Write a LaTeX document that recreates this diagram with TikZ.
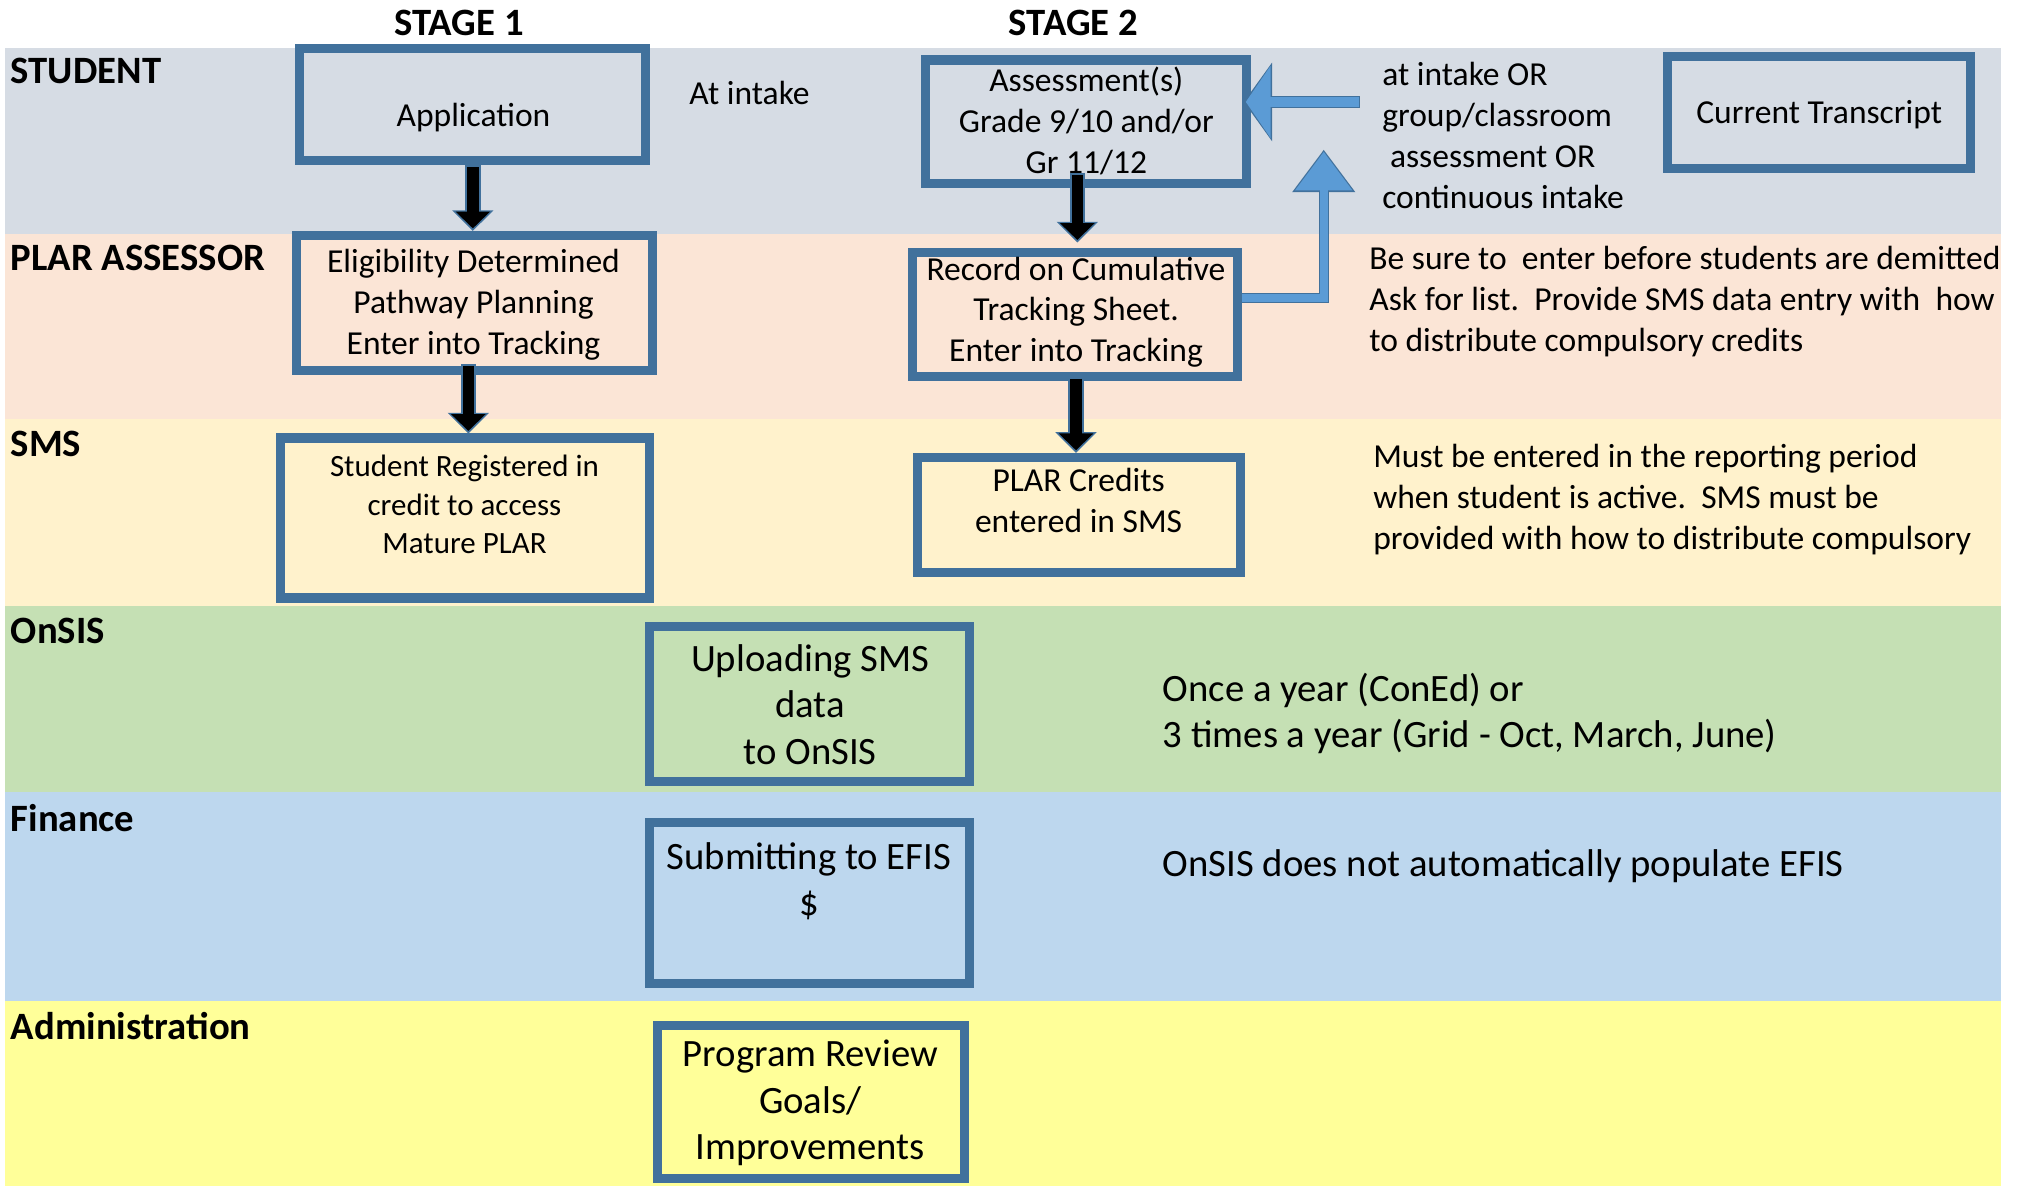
\documentclass[tikz,border=0pt]{standalone}
\usepackage{fontspec}
\setmainfont{Carlito}
\usetikzlibrary{arrows.meta}
\definecolor{bandstudent}{HTML}{D6DCE4}
\definecolor{bandplar}{HTML}{FBE5D6}
\definecolor{bandsms}{HTML}{FFF2CC}
\definecolor{bandonsis}{HTML}{C5E0B4}
\definecolor{bandfinance}{HTML}{BDD7EE}
\definecolor{bandadmin}{HTML}{FFFF99}
\definecolor{boxblue}{HTML}{41719C}
\definecolor{arrowblue}{HTML}{5B9BD5}
\begin{document}
\begin{tikzpicture}[x=0.5pt,y=-0.5pt,
  lanelabel/.style={anchor=west, inner sep=0pt, font=\fontsize{15}{18}\selectfont\bfseries},
  stagelabel/.style={inner sep=0pt, font=\fontsize{15}{18}\selectfont\bfseries},
  flowbox/.style={draw=boxblue, line width=3.5pt, inner sep=0pt},
  txtM/.style={inner sep=0pt, align=center, font=\fontsize{13}{15.85}\selectfont},
  txtS/.style={inner sep=0pt, align=center, font=\fontsize{12}{15}\selectfont},
  txtL/.style={inner sep=0pt, align=center, font=\fontsize{15}{18}\selectfont},
  noteM/.style={anchor=west, inner sep=0pt, align=left, font=\fontsize{13}{15.85}\selectfont},
  noteL/.style={anchor=west, inner sep=0pt, align=left, font=\fontsize{15}{18}\selectfont},
  blkout/.style={draw=boxblue, line width=6pt, -{Triangle[length=8pt,width=15.5pt]}},
  blkin/.style={draw=black, line width=4.5pt, shorten >=1pt, shorten <=0.75pt, -{Triangle[length=6.5pt,width=13pt]}}
]
\useasboundingbox (0,0) rectangle (1568,919);
\fill[white] (0,0) rectangle (1568,919);
% lanes
\fill[bandstudent] (4,37) rectangle (1551,181);
\fill[bandplar] (4,181) rectangle (1551,325);
\fill[bandsms] (4,325) rectangle (1551,470);
\fill[bandonsis] (4,470) rectangle (1551,614);
\fill[bandfinance] (4,614) rectangle (1551,776);
\fill[bandadmin] (4,776) rectangle (1551,919);

% stage and lane labels
\node[stagelabel] (stage1) at (356,18) {STAGE 1};
\node[stagelabel] (stage2) at (832,18) {STAGE 2};
\node[lanelabel] (lstudent) at (8,55) {STUDENT};
\node[lanelabel] (lplar) at (8,200) {PLAR ASSESSOR};
\node[lanelabel] (lsms) at (8,344) {SMS};
\node[lanelabel] (lonsis) at (8,489) {OnSIS};
\node[lanelabel] (lfinance) at (8,634) {Finance};
\node[lanelabel] (ladmin) at (8,795) {Administration};

% boxes
\node[flowbox, minimum width=134pt, minimum height=43.5pt] (app) at (366.5,81) {};
\node[flowbox, minimum width=138pt, minimum height=52.5pt] (elig) at (367.5,235) {};
\node[flowbox, minimum width=143pt, minimum height=62pt] (reg) at (360.5,401.5) {};
\node[flowbox, minimum width=124.5pt, minimum height=48pt] (assess) at (842,94.5) {};
\node[flowbox, minimum width=126pt, minimum height=48pt] (record) at (833.5,243.5) {};
\node[flowbox, minimum width=125pt, minimum height=44.5pt] (credits) at (836.5,399) {};
\node[flowbox, minimum width=117.5pt, minimum height=43.5pt] (transcript) at (1410,87) {};
\node[flowbox, minimum width=124pt, minimum height=60pt] (upload) at (627.5,545.5) {};
\node[flowbox, minimum width=124pt, minimum height=62.5pt] (efis) at (627.5,700) {};
\node[flowbox, minimum width=119pt, minimum height=59.5pt] (review) at (628.5,854) {};

% box texts
\node[txtM] (appT) at (367,91) {Application};
\node[txtM] (eligT) at (367,236) {Eligibility Determined\\Pathway Planning\\Enter into Tracking};
\node[txtS] (regT) at (360,391) {Student Registered in\\credit to access\\Mature PLAR};
\node[txtM] (assessT) at (842,94) {Assessment(s)\\Grade 9/10 and/or\\Gr 11/12};
\node[txtM] (recordT) at (834,242) {Record on Cumulative\\Tracking Sheet.\\Enter into Tracking};
\node[txtM] (creditsT) at (836,388) {PLAR Credits\\entered in SMS};
\node[txtM] (transcriptT) at (1410,89) {Current Transcript};
\node[txtL] (uploadT) at (628,546) {Uploading SMS\\data\\to OnSIS};
\node[txtL] (efisT) at (627,683) {Submitting to EFIS\\\$};
\node[txtL] (reviewT) at (628,855) {Program Review\\Goals/\\Improvements};

% notes
\node[noteM] (atintake) at (534,72) {At intake};
\node[noteM] (intakenote) at (1071,105) {at intake OR\\group/classroom\\\hspace{3pt}assessment OR\\continuous intake};
\node[noteM] (plarnote) at (1061,234) {Be sure to\ \ enter before students are demitted\\Ask for list.\ \ Provide SMS data entry with\ \ how\\to distribute compulsory credits};
\node[noteM] (smsnote) at (1064,387) {Must be entered in the reporting period\\when student is active.\ \ SMS must be\\provided with how to distribute compulsory};
\node[noteL] (onsisnote) at (901,553) {Once a year (ConEd) or\\3 times a year (Grid - Oct, March, June)};
\node[noteL] (finnote) at (901,671) {OnSIS does not automatically populate EFIS};

% black block arrows
\draw[blkout] (app.south) -- (app.south |- elig.north);
\draw[blkin] (app.south) -- (app.south |- elig.north);
\coordinate (eligout) at ([xshift=-2.25pt,yshift=4.5pt]elig.south);
\draw[blkout] (eligout) -- (eligout |- reg.north);
\draw[blkin] (eligout) -- (eligout |- reg.north);
\coordinate (assessout) at ([yshift=6pt]assess.south -| 835,0);
\draw[blkout, shorten >=2pt] (assessout) -- (assessout |- record.north);
\draw[blkin, shorten >=3pt] (assessout) -- (assessout |- record.north);
\coordinate (recordout) at ([yshift=1.5pt]record.south -| 834,0);
\draw[blkout] (recordout) -- (recordout |- credits.north);
\draw[blkin] (recordout) -- (recordout |- credits.north);

% blue arrows
\coordinate (intakefrom) at (1054,79);
\draw[draw=boxblue, line width=4.8pt, shorten >=-3pt, -{Triangle[length=11pt,width=30pt]}] (intakefrom) -- (intakefrom -| assess.east);
\draw[draw=arrowblue, line width=3.6pt, shorten >=-2.2pt, shorten <=0.5pt, -{Triangle[length=9.6pt,width=27.5pt]}] (intakefrom) -- (intakefrom -| assess.east);
\coordinate (uptip) at (1026,116);
\draw[draw=boxblue, line width=3.8pt, -{Triangle[length=16.5pt,width=23.5pt]}] ([yshift=6.25pt]record.east) -| (uptip);
\draw[draw=arrowblue, line width=3pt, shorten >=0.8pt, -{Triangle[length=15pt,width=21.5pt]}] ([yshift=6.25pt]record.east) -| (uptip);
\end{tikzpicture}
\end{document}
